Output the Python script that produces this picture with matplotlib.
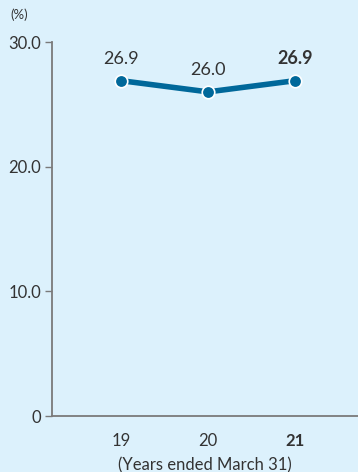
import matplotlib
matplotlib.use("Agg")
import matplotlib.pyplot as plt

# ── Data ──────────────────────────────────────────────────────────────────────
years      = ["19", "20", "21"]
ratio      = [26.9, 26.0, 26.9]
value_lbls = ["26.9", "26.0", "26.9"]
y_ticks    = [0, 10, 20, 30]
y_tick_lbl = ["0", "10.0", "20.0", "30.0"]

BG    = "#dcf1fc"
LINE  = "#00689a"
TEXT  = "#333333"
AXIS  = "#7a7a7a"

plt.rcParams["font.family"] = ["Lato", "DejaVu Sans"]

fig = plt.figure(figsize=(3.58, 4.72), dpi=100, facecolor=BG)
ax = fig.add_axes([0.1453, 0.1186, 0.8547, 0.7924], facecolor=BG)

x = list(range(len(years)))
ax.plot(x, ratio, color=LINE, lw=4, solid_capstyle="round", zorder=2)
ax.plot(x, ratio, "o", ms=9, color=LINE, mec="white", mew=1.2, zorder=3)

for i, (v, s) in enumerate(zip(ratio, value_lbls)):
    ax.annotate(s, (i, v), xytext=(0, 10), textcoords="offset points",
                ha="center", va="bottom", fontsize=13, color=TEXT,
                fontweight="bold" if i == len(years) - 1 else "normal")

ax.set_xlim(-0.79, 2.72)
ax.set_ylim(0, 30)
ax.set_yticks(y_ticks)
ax.set_yticklabels(y_tick_lbl)
ax.set_xticks(x)
ax.set_xticklabels(years)
ax.get_xticklabels()[-1].set_fontweight("bold")

ax.tick_params(axis="y", length=5, width=1, color=AXIS, labelsize=12,
               labelcolor=TEXT, pad=3)
ax.tick_params(axis="x", length=0, labelsize=12, labelcolor=TEXT, pad=12)

for side in ("top", "right"):
    ax.spines[side].set_visible(False)
for side in ("left", "bottom"):
    ax.spines[side].set_color(AXIS)
    ax.spines[side].set_linewidth(1.3)

ax.set_xlabel("(Years ended March 31)", fontsize=12, color=TEXT, labelpad=6)
fig.text(0.028, 0.955, "(%)", fontsize=9.5, color=TEXT, ha="left", va="bottom")

fig.savefig("out.png", dpi=100, facecolor=BG)
